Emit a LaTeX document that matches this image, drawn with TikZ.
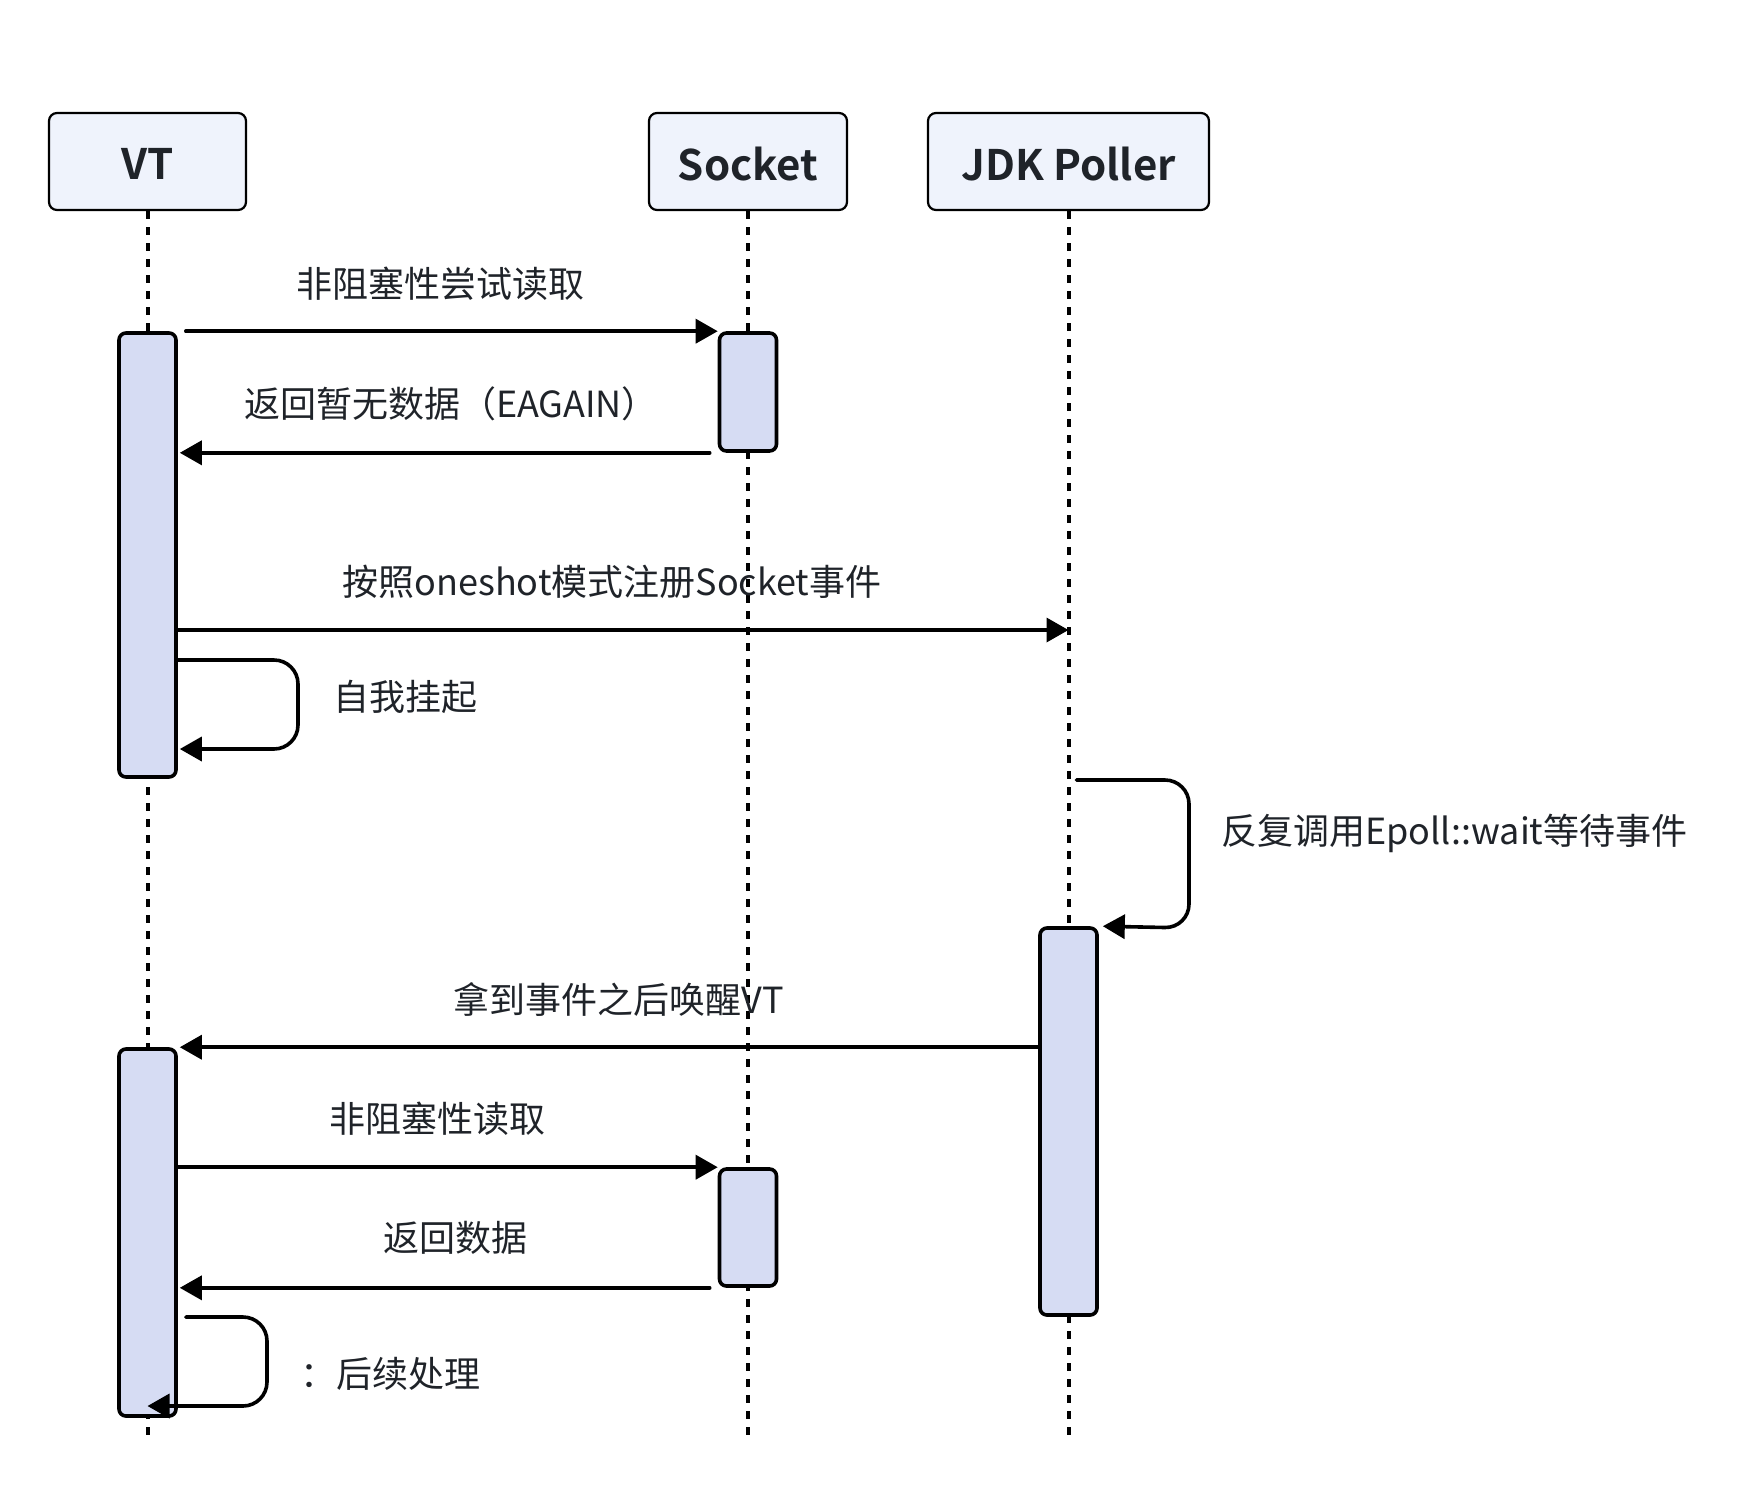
\documentclass[tikz,border=0pt]{standalone}
\usepackage{fontspec}
\setmainfont{Noto Sans CJK SC}[BoldFont={Noto Sans CJK SC Bold}]
\usetikzlibrary{arrows.meta,calc}
\definecolor{txt}{HTML}{1F2329}
\definecolor{headfill}{HTML}{EFF3FC}
\definecolor{actfill}{HTML}{D6DCF3}
\newcommand{\lowered}[1]{\raisebox{-1.2pt}[\height][\depth]{#1}}
\begin{document}
\begin{tikzpicture}[x=0.5pt,y=-0.5pt,
  head/.style={draw=black, line width=1.1pt, fill=headfill, rounded corners=4pt, minimum height=48.5pt, inner sep=0pt, text=txt, font=\fontsize{21}{25}\selectfont\bfseries},
  act/.style={draw=black, line width=1.8pt, fill=actfill, rounded corners=3.5pt, minimum width=28.5pt, inner sep=0pt},
  life/.style={line width=2pt, dash pattern=on 4pt off 4pt},
  msg/.style={line width=1.8pt, line cap=round, -{Triangle[length=11pt,width=12pt]}},
  lbl/.style={text=txt, inner sep=0pt, font=\fontsize{18}{22}\selectfont},
]
\useasboundingbox (0,0) rectangle (1754,1488);
% participants
\node[head, minimum width=98.5pt] (vt) at (147.5,161.5) {\lowered{VT}};
\node[head, minimum width=99pt] (sock) at (748,161.5) {\lowered{Socket}};
\node[head, minimum width=140.5pt] (poll) at (1068.5,161.5) {\lowered{JDK Poller}};
% lifeline ends
\coordinate (vtEnd) at (147.5,1435);
\coordinate (sockEnd) at (748,1435);
\coordinate (pollEnd) at (1068.5,1435);
\draw[life] (vt.south) -- (vtEnd);
\draw[life] (sock.south) -- (sockEnd);
\draw[life] (poll.south) -- (pollEnd);
% activations
\node[act, minimum height=222pt] (vtA) at (147.5,555) {};
\node[act, minimum height=59pt] (sockA) at (748,392) {};
\node[act, minimum height=183.5pt] (vtB) at (147.5,1232.5) {};
\node[act, minimum height=58.5pt] (sockB) at (748,1227.5) {};
\node[act, minimum height=193.5pt] (pollA) at (1068.5,1121.5) {};
% messages
\draw[msg] ($(vtA.east |- sockA.north)+(8,0)$) -- (sockA.north west);
\node[lbl] (t1) at (440,284) {非阻塞性尝试读取};
\draw[msg] ($(sockA.south west)+(-8,0)$) -- ($(vtA.east |- sockA.south)+(2,0)$);
\node[lbl] (t2) at (451,404) {返回暂无数据（EAGAIN）};
\draw[msg] (vtA.east |- 0,630) -- (poll.south |- 0,630);
\node[lbl] (t3) at (612,582) {按照oneshot模式注册Socket事件};
\draw[msg, rounded corners=12pt] (vtA.east |- 0,660) -- (298,660) -- (298,749) -- ($(vtA.east |- 0,749)+(2,0)$);
\node[lbl, anchor=west] (t4) at (333,697) {自我挂起};
\draw[msg, rounded corners=12pt] ($(poll.south |- 0,780)+(8,0)$) -- (1189,780) -- (1189,928) -- ($(pollA.north east)+(4,0)$);
\node[lbl, anchor=west] (t5) at (1221,833) {反复调用Epoll::wait等待事件};
\draw[msg] (pollA.west |- vtB.north) -- ($(vtB.north east)+(2,0)$);
\node[lbl] (t6) at (619,999) {拿到事件之后唤醒VT};
\draw[msg] (vtB.east |- sockB.north) -- (sockB.north west);
\node[lbl] (t7) at (437,1119) {非阻塞性读取};
\draw[msg] ($(sockB.south west)+(-8,0)$) -- ($(vtB.east |- sockB.south)+(2,0)$);
\node[lbl] (t8) at (455,1238) {返回数据};
\draw[msg, rounded corners=12pt] ($(vtB.east |- 0,1317)+(8,0)$) -- (267,1317) -- (267,1406) -- (vtB.center |- 0,1406);
\node[lbl, anchor=west] (t9) at (300,1374) {：后续处理};
\end{tikzpicture}
\end{document}
